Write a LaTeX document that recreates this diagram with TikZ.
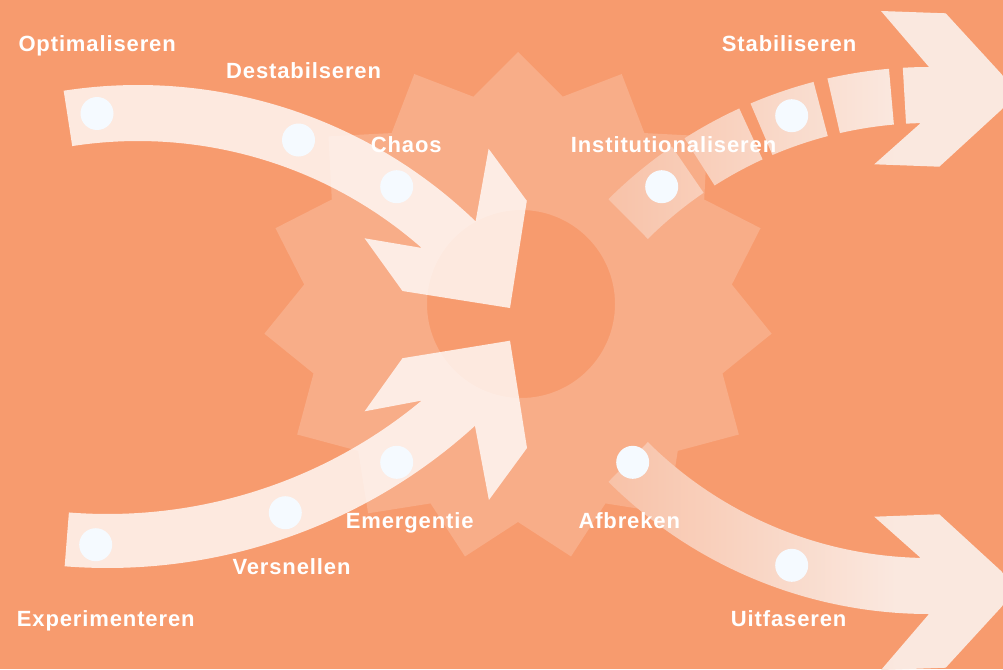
\documentclass[tikz,border=0pt]{standalone}
\usepackage{fontspec}
\newfontfamily\lblfont[LetterSpace=4]{Liberation Sans}
\usetikzlibrary{calc}
\definecolor{bg}{RGB}{247,155,110}
\definecolor{dotc}{RGB}{245,250,255}
\definecolor{fa0}{RGB}{248,194,168}
\definecolor{fa1}{RGB}{250,232,223}
\pgfdeclarehorizontalshading{arrshade}{100bp}{color(0bp)=(fa0); color(25bp)=(fa0); color(60bp)=(fa1); color(100bp)=(fa1)}
\begin{document}
\begin{tikzpicture}[x=1pt,y=-1pt,
  lbl/.style={text=white, font=\lblfont\bfseries\fontsize{22}{26}\selectfont, inner sep=0pt, anchor=base west},
  dot/.style={circle, fill=dotc, minimum size=33pt, inner sep=0pt},
  arr/.style={fill=white, fill opacity=0.78},
  gearfill/.style={fill=white, fill opacity=0.18, even odd rule},
  fadearr/.style={shading=arrshade}]
\useasboundingbox (0,0) rectangle (1003,669);
\fill[bg] (0,0) rectangle (1003,669);
\clip (0,0) rectangle (1003,669);
% gear
\coordinate (G) at (518,307);
\coordinate (H) at (521,304);
\fill[gearfill] ($(G)+(-90:255)$)
  \foreach \i in {0,...,14}{ -- ($(G)+({-78+24*\i}:215)$) -- ($(G)+({-66+24*\i}:255)$) } -- cycle
  (H) circle[radius=94];
% arrow 1 (Optimaliseren)
\coordinate (C1) at (138,571);
\fill[arr] ($(C1)+(-98.8:486)$) arc[start angle=-98.8, end angle=-46, radius=486]
  -- (488.6,148.8) -- (526.8,200.8) -- (510,308) -- (402.5,291) -- (364.6,238.3)
  -- ($(C1)+(-48.7:430)$) arc[start angle=-48.7, end angle=-98.8, radius=430] -- cycle;
% arrow 2 (Experimenteren)
\coordinate (C2) at (107.5,22);
\fill[arr] ($(C2)+(94.5:492)$) arc[start angle=94.5, end angle=50.3, radius=492]
  -- (364.6,411.3) -- (402.5,358.2) -- (510,340.7) -- (527,448) -- (488.9,500)
  -- ($(C2)+(47.7:546)$) arc[start angle=47.7, end angle=94.5, radius=546] -- cycle;
% arrow 3 (Institutionaliseren -> Stabiliseren), segmented
\coordinate (C3) at (929,522);
\shade[fadearr]
  ($(C3)+(-134.8:455)$) arc[start angle=-134.8, end angle=-124.4, radius=455]
    -- ($(C3)+(-124.4:399)$) arc[start angle=-124.4, end angle=-134.8, radius=399] -- cycle
  ($(C3)+(-122.5:455)$) arc[start angle=-122.5, end angle=-114.65, radius=455]
    -- ($(C3)+(-114.65:399)$) arc[start angle=-114.65, end angle=-122.5, radius=399] -- cycle
  ($(C3)+(-113.1:455)$) arc[start angle=-113.1, end angle=-104.7, radius=455]
    -- ($(C3)+(-104.7:399)$) arc[start angle=-104.7, end angle=-113.1, radius=399] -- cycle
  ($(C3)+(-102.9:455)$) arc[start angle=-102.9, end angle=-95.05, radius=455]
    -- ($(C3)+(-95.05:399)$) arc[start angle=-95.05, end angle=-102.9, radius=399] -- cycle
  ($(C3)+(-93.3:455)$) arc[start angle=-93.3, end angle=-90, radius=455]
    -- (881,11) -- (945.7,13.3) -- (1019.2,93.4) -- (939.3,166.7) -- (874.3,164.3)
    -- ($(C3)+(-91.2:399)$) arc[start angle=-91.2, end angle=-93.3, radius=399] -- cycle;
% arrow 4 (Afbreken -> Uitfaseren)
\coordinate (C4) at (929,159);
\shade[fadearr] ($(C4)+(134.8:399)$) arc[start angle=134.8, end angle=91.2, radius=399]
  -- (874.3,516.7) -- (939.3,514.3) -- (1019.2,587.6) -- (945.7,667.7) -- (881,670)
  -- ($(C4)+(90:455)$) arc[start angle=90, end angle=134.8, radius=455] -- cycle;
% dots
\node[dot] (d1) at (97,113.5) {};
\node[dot] (d2) at (298.5,140) {};
\node[dot] (d3) at (396.7,186.7) {};
\node[dot] (d4) at (95.7,544.7) {};
\node[dot] (d5) at (285.3,512.7) {};
\node[dot] (d6) at (396.7,462.3) {};
\node[dot] (d7) at (661.7,186.7) {};
\node[dot] (d8) at (791.7,115.7) {};
\node[dot] (d9) at (632.7,462.3) {};
\node[dot] (d10) at (791.7,565.3) {};
% labels
\node[lbl] (lopt) at (18.3,51.5) {Optimaliseren};
\node[lbl] (ldes) at (226,78.3) {Destabilseren};
\node[lbl] (lcha) at (370.7,152.3) {Chaos};
\node[lbl] (lsta) at (721.7,51.7) {Stabiliseren};
\node[lbl] (lins) at (570.7,152.7) {Institutionaliseren};
\node[lbl] (lexp) at (16.7,626.7) {Experimenteren};
\node[lbl] (lver) at (232.3,574.3) {Versnellen};
\node[lbl] (leme) at (345.7,528.7) {Emergentie};
\node[lbl] (lafb) at (578.3,528.7) {Afbreken};
\node[lbl] (luit) at (730.7,626.7) {Uitfaseren};
\end{tikzpicture}
\end{document}
